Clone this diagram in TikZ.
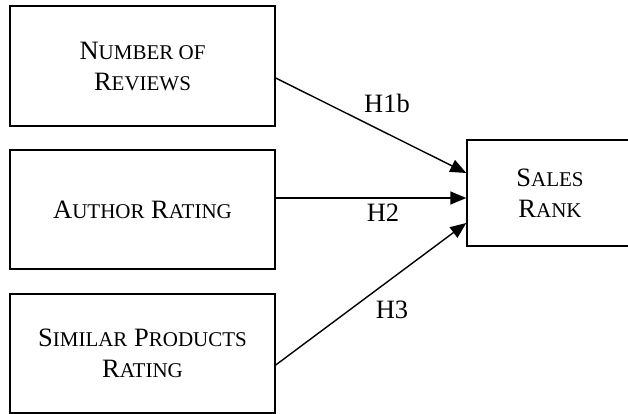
\documentclass[tikz,border=0pt]{standalone}
\usepackage{fontspec}
\setmainfont{Liberation Serif}
\usetikzlibrary{arrows.meta}
% small-capital letters, set from capitals at a reduced size
\newcommand\smc[1]{{\fontsize{21}{31}\selectfont #1}}
\tikzset{
  varbox/.style={draw, line width=1.4pt, align=center, inner sep=0pt,
    font=\fontsize{26.5}{31}\selectfont},
  hyp/.style={font=\fontsize{26.5}{31}\selectfont, inner sep=0pt},
  link/.style={line width=1.4pt, -{Triangle[length=16pt,width=13pt]}}
}
\begin{document}
\begin{tikzpicture}[x=1pt,y=-1pt]
  \useasboundingbox (0,0) rectangle (628,414);

  % predictor boxes
  \node[varbox, minimum width=265pt, minimum height=120pt] (nr) at (142.5,66)
    {N\smc{UMBER OF}\\R\smc{EVIEWS}};
  \node[varbox, minimum width=265pt, minimum height=119pt] (ar) at (142.5,209.5)
    {A\smc{UTHOR} R\smc{ATING}};
  \node[varbox, minimum width=265pt, minimum height=119pt] (sp) at (142.5,353.5)
    {S\smc{IMILAR} P\smc{RODUCTS}\\R\smc{ATING}};

  % outcome box
  \node[varbox, minimum width=166pt, minimum height=106pt] (sr) at (550,193)
    {S\smc{ALES}\\R\smc{ANK}};

  % hypothesised paths
  \draw[link] ([yshift=-12pt]nr.east) -- ([yshift=20pt]sr.west);
  \draw[link] ([yshift=11.5pt]ar.east) -- ([yshift=-5pt]sr.west);
  \draw[link] ([yshift=-11.5pt]sp.east) -- ([yshift=-30pt]sr.west);

  % path labels
  \node[hyp] (h1) at (387,103) {H1b};
  \node[hyp] (h2) at (383,213) {H2};
  \node[hyp] (h3) at (392,310) {H3};
\end{tikzpicture}
\end{document}
